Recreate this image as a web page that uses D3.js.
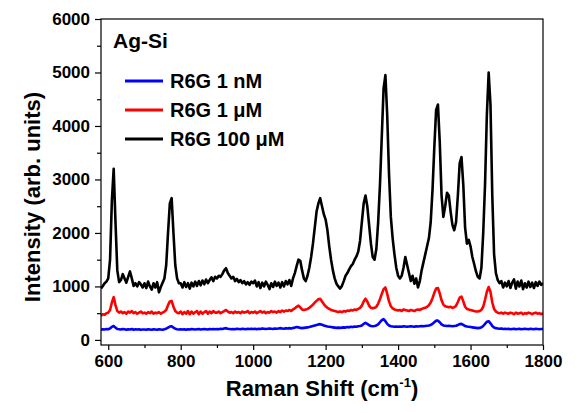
<!DOCTYPE html>
<html>
<head>
<meta charset="utf-8">
<script src="https://cdn.jsdelivr.net/npm/d3@7"></script>
<style>
  html, body { margin: 0; padding: 0; background: #fff; }
  svg text { font-family: "Liberation Sans", Arial, sans-serif; font-weight: bold; fill: #000; }
</style>
</head>
<body>
<svg id="chart" width="583" height="413"></svg>
<script>
// Raman shift sampling (cm-1): 580 to 1800 every 5
const shiftStart = 580, shiftEnd = 1800, shiftStep = 5;

// R6G 100 uM (black)
const r6g100uM = [
  960, 1010, 1060, 1090,
  1150, 1500, 2600, 3200, 2200, 1300, 1080, 1120, 1230, 1150, 1070, 1180, 1280, 1150, 1010, 1060, 1000, 1080, 1040, 980,
  1060, 970, 1090, 1000, 940, 1060, 980, 1080, 890, 990, 1070, 1150, 1400, 2000, 2550, 2650, 2000, 1400, 1150, 1060,
  1060, 980, 1080, 990, 1060, 960, 1070, 1000, 1090, 1010, 1100, 1020, 1110, 1040, 1130, 1060, 1120, 1170, 1100, 1180,
  1150, 1200, 1180, 1230, 1300, 1340, 1250, 1200, 1150, 1180, 1100, 1140, 1080, 1120, 1060, 1100, 1040, 1080, 1030, 1090,
  1060, 1110, 1000, 1080, 970, 1070, 1000, 1090, 1030, 950, 1060, 990, 1090, 1010, 1070, 980, 1080, 1000, 1100, 1040,
  1120, 1010, 1150, 1250, 1380, 1500, 1480, 1300, 1150, 1100, 1200, 1350, 1550, 1800, 2100, 2400, 2550, 2650, 2500, 2350,
  2250, 2050, 1750, 1500, 1300, 1150, 1050, 1000, 960, 1010, 1100, 1200, 1250, 1320, 1380, 1420, 1500, 1560, 1650, 1850,
  2200, 2550, 2700, 2500, 2150, 1800, 1550, 1500, 1700, 2200, 2900, 3800, 4700, 4950, 4200, 3100, 2300, 1900, 1600, 1350,
  1200, 1150, 1200, 1350, 1550, 1400, 1250, 1100, 1200, 1050, 1150, 980, 1100, 1300, 1450, 1600, 1750, 1900, 2200, 2800,
  3600, 4300, 4400, 3700, 2700, 2300, 2500, 2750, 2700, 2400, 2150, 2050, 2200, 2700, 3300, 3420, 2900, 2100, 1800, 1870,
  1750, 1550, 1420, 1280, 1180, 1150, 1350, 2000, 2900, 4200, 5000, 4400, 2700, 1600, 1250, 1120, 1060, 1100, 980, 1070,
  1000, 1100, 970, 1070, 1130, 960, 1090, 1000, 1110, 950, 1060, 980, 1090, 990, 1070, 970, 1080, 1010, 1090, 1030,
  1060
];

// R6G 1 uM (red)
const r6g1uM = [
  450, 480, 470, 500,
  510, 560, 700, 800, 650, 540, 510, 530, 500, 520, 490, 530, 510, 540, 500, 520, 490, 510, 530, 500,
  510, 490, 520, 500, 530, 490, 510, 500, 520, 490, 510, 530, 560, 650, 720, 730, 620, 540, 510, 500,
  530, 480, 520, 490, 540, 480, 530, 490, 520, 540, 480, 530, 490, 520, 540, 490, 530, 500, 540, 510,
  510, 530, 500, 520, 540, 560, 530, 510, 520, 500, 530, 510, 520, 500, 530, 510, 520, 540, 500, 520,
  510, 530, 500, 520, 540, 510, 530, 500, 520, 510, 540, 520, 530, 510, 540, 520, 550, 530, 550, 540,
  560, 540, 570, 590, 620, 640, 610, 570, 560, 570, 580, 600, 630, 660, 700, 730, 760, 770, 720, 670,
  630, 600, 580, 560, 550, 540, 530, 520, 530, 520, 540, 530, 550, 540, 560, 550, 570, 560, 580, 600,
  640, 720, 770, 720, 640, 600, 590, 600, 620, 680, 760, 860, 950, 980, 860, 720, 630, 590, 570, 560,
  550, 560, 540, 570, 560, 550, 540, 560, 550, 540, 560, 570, 560, 580, 590, 600, 620, 650, 700, 780,
  880, 960, 970, 870, 740, 660, 630, 620, 610, 620, 600, 610, 640, 710, 790, 810, 720, 620, 580, 570,
  560, 550, 540, 530, 530, 540, 560, 620, 750, 900, 990, 900, 700, 580, 530, 510, 500, 510, 490, 510,
  500, 490, 510, 500, 480, 510, 490, 500, 510, 480, 500, 490, 510, 500, 480, 500, 510, 490, 500, 480,
  500
];

// R6G 1 nM (blue)
const r6g1nM = [
  190, 200, 195, 205,
  200, 215, 245, 260, 230, 205, 200, 195, 205, 200, 190, 200, 195, 205, 190, 200, 195, 200, 190, 195,
  195, 190, 200, 195, 190, 200, 195, 190, 200, 195, 190, 200, 210, 230, 250, 255, 230, 210, 200, 195,
  200, 195, 200, 190, 200, 195, 205, 200, 195, 200, 205, 195, 200, 205, 200, 195, 205, 200, 205, 200,
  205, 200, 210, 205, 215, 220, 210, 205, 200, 205, 200, 210, 205, 200, 210, 205, 200, 210, 205, 210,
  205, 210, 200, 210, 205, 215, 210, 205, 210, 215, 210, 205, 215, 210, 215, 220, 215, 210, 220, 215,
  220, 215, 225, 230, 240, 235, 225, 220, 225, 230, 235, 240, 250, 260, 270, 280, 290, 295, 285, 270,
  260, 250, 245, 240, 235, 230, 225, 230, 225, 230, 235, 230, 240, 235, 245, 240, 250, 245, 255, 260,
  270, 300, 320, 300, 275, 260, 255, 260, 270, 290, 330, 370, 390, 350, 300, 270, 255, 250, 245, 250,
  245, 250, 245, 255, 250, 245, 250, 255, 250, 245, 255, 250, 255, 260, 255, 260, 265, 270, 280, 300,
  330, 360, 360, 330, 290, 270, 265, 260, 265, 260, 255, 260, 265, 280, 295, 300, 280, 260, 250, 245,
  240, 235, 230, 225, 220, 225, 235, 260, 300, 340, 350, 310, 260, 230, 220, 215, 210, 215, 205, 210,
  205, 210, 200, 205, 210, 200, 205, 210, 200, 205, 210, 205, 200, 210, 205, 200, 210, 205, 200, 205,
  205
];

const seriesNames = ["R6G 1 nM", "R6G 1 \u03bcM", "R6G 100 \u03bcM"];
const seriesColors = ["#0000ff", "#ff0000", "#000000"];
const seriesValues = [r6g1nM, r6g1uM, r6g100uM];

const xTicks = [600, 800, 1000, 1200, 1400, 1600, 1800];
const xMinorTicks = [700, 900, 1100, 1300, 1500, 1700];
const yTicks = [0, 1000, 2000, 3000, 4000, 5000, 6000];
const yMinorTicks = [500, 1500, 2500, 3500, 4500, 5500];

const sampleTitle = "Ag-Si";
const xTitle = "Raman Shift (cm";
const yTitle = "Intensity (arb. units)";

// ---------- drawing ----------
const svg = d3.select("#chart");
const L = 101, R = 543, T = 19, B = 345;

const x = d3.scaleLinear().domain([580, 1800]).range([L, R]);
const y = d3.scaleLinear().domain([-95, 6000]).range([B, T]);

const shifts = d3.range(shiftStart, shiftEnd + 0.001, shiftStep);

svg.append("defs").append("clipPath").attr("id", "clip")
  .append("rect").attr("x", L).attr("y", T).attr("width", R - L).attr("height", B - T);

const line = d3.line().x(d => x(d[0])).y(d => y(d[1]));

const plot = svg.append("g").attr("clip-path", "url(#clip)");
seriesValues.forEach((vals, i) => {
  plot.append("path")
    .datum(shifts.map((s, k) => [s, vals[k]]))
    .attr("fill", "none")
    .attr("stroke", seriesColors[i])
    .attr("stroke-width", 2.6)
    .attr("stroke-linejoin", "round")
    .attr("d", line);
});

// frame
svg.append("rect").attr("x", L).attr("y", T).attr("width", R - L).attr("height", B - T)
  .attr("fill", "none").attr("stroke", "#000").attr("stroke-width", 1.2);

// x axis
const xAxis = svg.append("g").attr("transform", `translate(0,${B})`)
  .call(d3.axisBottom(x).tickValues(xTicks).tickSize(5).tickPadding(5).tickFormat(d3.format("d")));
xAxis.select(".domain").remove();
xAxis.selectAll("line").attr("stroke", "#000").attr("stroke-width", 1.2);
xAxis.selectAll("text").attr("font-size", 17).attr("font-family", null);
svg.append("g").attr("transform", `translate(0,${B})`)
  .call(d3.axisBottom(x).tickValues(xMinorTicks).tickSize(3).tickFormat(""))
  .call(g => g.select(".domain").remove())
  .selectAll("line").attr("stroke", "#000").attr("stroke-width", 1.2);

// y axis
const yAxis = svg.append("g").attr("transform", `translate(${L},0)`)
  .call(d3.axisLeft(y).tickValues(yTicks).tickSize(6).tickPadding(5).tickFormat(d3.format("d")));
yAxis.select(".domain").remove();
yAxis.selectAll("line").attr("stroke", "#000").attr("stroke-width", 1.2);
yAxis.selectAll("text").attr("font-size", 17).attr("font-family", null);
svg.append("g").attr("transform", `translate(${L},0)`)
  .call(d3.axisLeft(y).tickValues(yMinorTicks).tickSize(4).tickFormat(""))
  .call(g => g.select(".domain").remove())
  .selectAll("line").attr("stroke", "#000").attr("stroke-width", 1.2);

// axis titles
const xt = svg.append("text").attr("x", (L + R) / 2).attr("y", 396)
  .attr("text-anchor", "middle").attr("font-size", 22);
xt.append("tspan").text(xTitle);
xt.append("tspan").text("-1").attr("font-size", 13).attr("dy", -9);
xt.append("tspan").text(")").attr("dy", 9);

svg.append("text").attr("transform", "translate(40,197) rotate(-90)")
  .attr("text-anchor", "middle").attr("font-size", 22).text(yTitle);

// legend
svg.append("text").attr("x", 113).attr("y", 48).attr("font-size", 21).text(sampleTitle);
const legY = [81, 110, 139];
seriesNames.forEach((n, i) => {
  svg.append("line").attr("x1", 125).attr("x2", 163).attr("y1", legY[i]).attr("y2", legY[i])
    .attr("stroke", seriesColors[i]).attr("stroke-width", 3);
  svg.append("text").attr("x", 170).attr("y", legY[i] + 6.5).attr("font-size", 20).text(n);
});
</script>
</body>
</html>
